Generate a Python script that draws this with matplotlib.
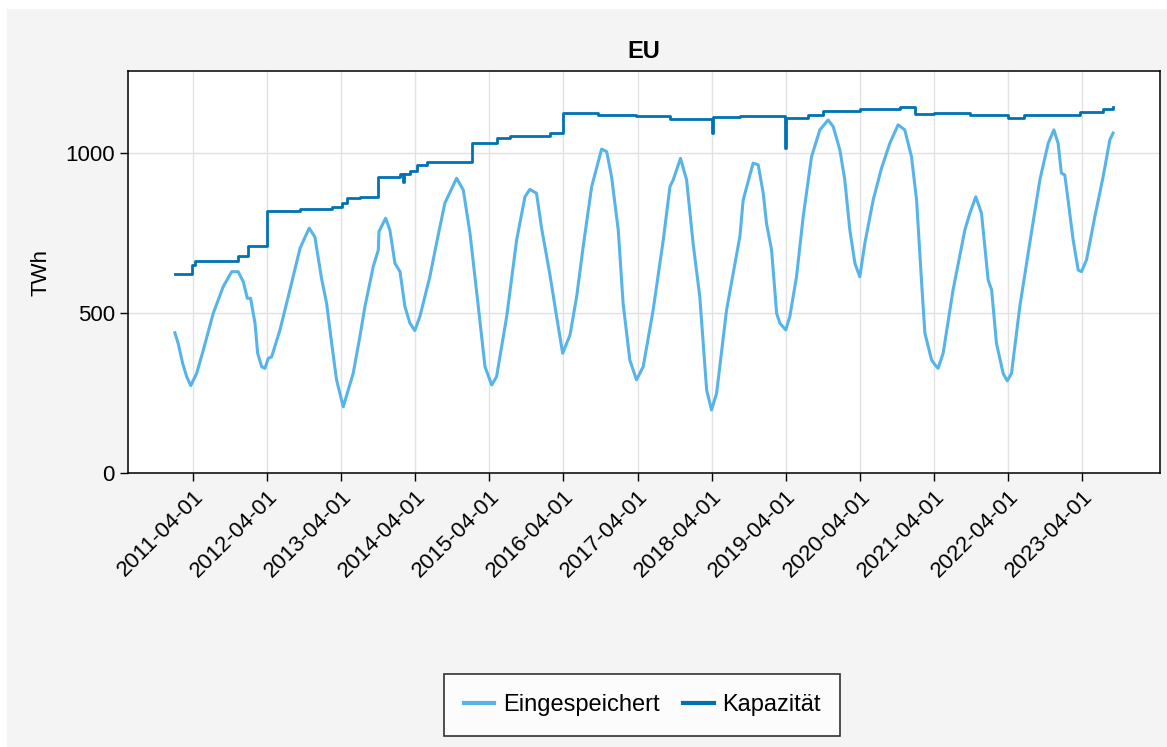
import pandas as pd
import matplotlib
matplotlib.use("Agg")
import matplotlib.pyplot as plt
import matplotlib.dates as mdates
from matplotlib.patches import Rectangle

plt.rcParams['font.family'] = ['Liberation Sans', 'DejaVu Sans']

# stored gas (TWh)
stored_dates = [
    "2011-01-02", "2011-01-18", "2011-02-09", "2011-03-01", "2011-03-21", "2011-04-19",
    "2011-05-22", "2011-07-10", "2011-08-28", "2011-10-09", "2011-11-10", "2011-12-05",
    "2011-12-25", "2012-01-10", "2012-02-01", "2012-02-14", "2012-03-05", "2012-03-21",
    "2012-04-06", "2012-04-23", "2012-06-03", "2012-07-22", "2012-09-10", "2012-10-25",
    "2012-11-22", "2012-12-25", "2013-01-19", "2013-02-13", "2013-03-09", "2013-04-11",
    "2013-05-30", "2013-07-02", "2013-07-27", "2013-09-06", "2013-10-01", "2013-10-04",
    "2013-11-06", "2013-11-27", "2013-12-22", "2014-01-16", "2014-02-09", "2014-03-06",
    "2014-03-30", "2014-04-24", "2014-06-12", "2014-07-15", "2014-08-25", "2014-10-22",
    "2014-11-24", "2014-12-27", "2015-02-06", "2015-03-11", "2015-04-13", "2015-05-07",
    "2015-06-26", "2015-08-14", "2015-09-24", "2015-10-18", "2015-11-20", "2015-12-15",
    "2016-01-25", "2016-02-27", "2016-03-28", "2016-05-03", "2016-06-05", "2016-07-07",
    "2016-08-18", "2016-10-06", "2016-10-31", "2016-11-24", "2016-12-27", "2017-01-20",
    "2017-02-22", "2017-03-27", "2017-04-29", "2017-06-17", "2017-08-06", "2017-09-08",
    "2017-09-24", "2017-10-30", "2017-11-29", "2017-12-31", "2018-02-02", "2018-03-08",
    "2018-04-01", "2018-04-26", "2018-06-14", "2018-08-19", "2018-09-04", "2018-10-23",
    "2018-11-17", "2018-12-12", "2018-12-28", "2019-01-22", "2019-02-16", "2019-03-04",
    "2019-04-02", "2019-04-22", "2019-05-25", "2019-06-27", "2019-08-07", "2019-09-17",
    "2019-10-28", "2019-11-22", "2019-12-25", "2020-01-18", "2020-02-12", "2020-03-08",
    "2020-04-01", "2020-04-26", "2020-06-06", "2020-07-17", "2020-08-27", "2020-10-07",
    "2020-11-09", "2020-12-12", "2021-01-06", "2021-01-31", "2021-02-16", "2021-03-21",
    "2021-04-07", "2021-04-22", "2021-05-17", "2021-07-05", "2021-09-01", "2021-09-26",
    "2021-10-25", "2021-11-22", "2021-12-25", "2022-01-11", "2022-02-04", "2022-03-09",
    "2022-03-29", "2022-04-19", "2022-05-30", "2022-07-18", "2022-09-06", "2022-10-17",
    "2022-11-14", "2022-12-05", "2022-12-21", "2023-01-07", "2023-01-23", "2023-02-17",
    "2023-03-14", "2023-03-30", "2023-04-24", "2023-06-04", "2023-07-15", "2023-08-17",
    "2023-09-02",
]
stored_twh = [
    438, 405, 343, 301, 273, 311,
    384, 499, 582, 629, 629, 598,
    546, 546, 468, 374, 332, 327,
    358, 363, 447, 572, 702, 765,
    738, 608, 530, 405, 291, 207,
    311, 426, 520, 645, 697, 754,
    796, 759, 655, 629, 520, 468,
    445, 489, 613, 718, 843, 921,
    884, 749, 520, 332, 275, 301,
    489, 728, 863, 886, 874, 765,
    620, 489, 374, 431, 551, 707,
    895, 1012, 1004, 926, 759, 530,
    353, 291, 332, 509, 728, 895,
    916, 983, 916, 718, 551, 259,
    197, 249, 509, 740, 853, 968,
    963, 874, 780, 697, 499, 468,
    447, 489, 613, 801, 988, 1072,
    1103, 1082, 1009, 916, 759, 655,
    613, 718, 853, 952, 1030, 1088,
    1072, 988, 853, 593, 437, 353,
    338, 327, 374, 572, 759, 812,
    863, 812, 603, 572, 405, 311,
    288, 311, 520, 718, 916, 1030,
    1072, 1030, 937, 931, 853, 728,
    634, 629, 666, 801, 926, 1041,
    1062,
]

# storage capacity (TWh), step changes
capacity_dates = [
    "2011-01-02", "2011-03-28", "2011-04-11", "2011-11-10", "2011-12-30", "2012-04-01",
    "2012-09-10", "2013-02-13", "2013-04-03", "2013-05-01", "2013-07-02", "2013-10-01",
    "2014-01-16", "2014-02-01", "2014-02-05", "2014-03-06", "2014-04-08", "2014-05-27",
    "2015-01-05", "2015-05-07", "2015-07-12", "2016-01-25", "2016-03-31", "2016-09-19",
    "2017-03-27", "2017-09-08", "2018-04-01", "2018-04-06", "2018-08-19", "2019-03-29",
    "2019-04-03", "2019-07-19", "2019-10-01", "2020-04-01", "2020-10-16", "2020-12-29",
    "2021-04-04", "2021-09-26", "2022-04-03", "2022-06-19", "2023-03-22", "2023-07-15",
    "2023-09-02",
]
capacity_twh = [
    621, 650, 662, 678, 710, 819,
    825, 832, 843, 858, 863, 926,
    934, 910, 934, 942, 962, 973,
    1030, 1046, 1053, 1062, 1126, 1119,
    1116, 1106, 1062, 1111, 1116, 1015,
    1108, 1119, 1131, 1136, 1143, 1122,
    1126, 1119, 1108, 1119, 1129, 1136,
    1145,
]

tick_dates = [f"{y}-04-01" for y in range(2011, 2024)]

stored_x = pd.to_datetime(stored_dates)
cap_x = pd.to_datetime(capacity_dates)
ticks = pd.to_datetime(tick_dates)

fig = plt.figure(figsize=(11.67, 7.47), dpi=100, facecolor="white")
fig.patches.append(Rectangle((7 / 1167, 0), 1, 1 - 9 / 747, transform=fig.transFigure,
                             facecolor="#f4f4f4", edgecolor="none", zorder=-10))

ax = fig.add_axes([128 / 1167, 1 - 473 / 747, (1160 - 128) / 1167, (473 - 71) / 747])
ax.set_facecolor("white")

ax.plot(stored_x, stored_twh, color="#56B4E9", lw=2.2, label="Eingespeichert")
ax.plot(cap_x, capacity_twh, color="#0072B2", lw=2.0, drawstyle="steps-post", label="Kapazität")

span = stored_x.max() - stored_x.min()
ax.set_xlim(stored_x.min() - 0.05 * span, stored_x.max() + 0.05 * span)
ax.set_ylim(0, 1256)

ax.set_xticks(ticks)
ax.xaxis.set_major_formatter(mdates.DateFormatter("%Y-%m-%d"))
ax.set_yticks([0, 500, 1000])
for lab in ax.get_xticklabels():
    lab.set_rotation(45)
    lab.set_ha("right")
    lab.set_rotation_mode("anchor")

ax.tick_params(labelsize=16, length=6, width=1, direction="out", colors="black")
ax.grid(True, color="#e2e2e2", lw=1)
ax.set_axisbelow(True)
for s in ax.spines.values():
    s.set_linewidth(1.1)

ax.set_title("EU", fontsize=17, fontweight="bold", pad=9)
ax.set_ylabel("TWh", fontsize=16, labelpad=10)

leg = fig.legend(loc="center", bbox_to_anchor=(642 / 1167, 1 - 705 / 747), ncol=2,
                 fontsize=17, frameon=True, fancybox=False, edgecolor="black",
                 handlelength=1.3, columnspacing=1.0, borderpad=0.85, handletextpad=0.35)
leg.get_frame().set_linewidth(1.2)
for line in leg.get_lines():
    line.set_linewidth(3)

fig.savefig("out.png", dpi=100, facecolor=fig.get_facecolor())
